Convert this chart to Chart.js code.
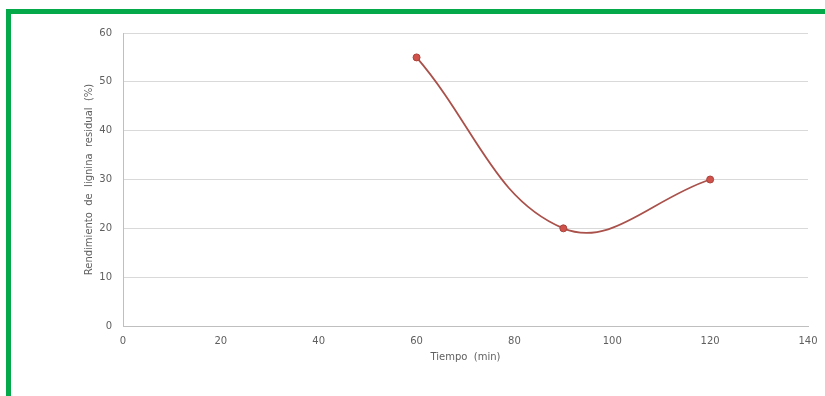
<!DOCTYPE html>
<html>
<head>
<meta charset="utf-8">
<script src="https://cdn.jsdelivr.net/npm/chart.js@4/dist/chart.umd.min.js"></script>
<style>
  html, body { margin: 0; padding: 0; background: #ffffff; overflow: hidden; }
  #wrap { position: relative; width: 825px; height: 396px; }
  #frame { position: absolute; left: 6px; top: 9px; width: 830px; height: 400px;
           border-top: 5px solid #04a94a; border-left: 5px solid #04a94a; box-sizing: border-box; pointer-events: none; }
  canvas { position: absolute; left: 0; top: 0; }
</style>
</head>
<body>
<div id="wrap">
  <canvas id="c" width="825" height="396"></canvas>
  <div id="frame"></div>
</div>
<script>
// Data
const tiempo = [60, 90, 120];               // Tiempo (min)
const rendimiento = [55, 20, 30];           // Rendimiento de lignina residual (%)
const xAxisTitle = 'Tiempo  (min)';
const yAxisTitle = 'Rendimiento  de  lignina  residual  (%)';
const xMin = 0, xMax = 140, xStep = 20;
const yMin = 0, yMax = 60, yStep = 10;

const points = tiempo.map((t, i) => ({ x: t, y: rendimiento[i] }));

const fontFamily = "'DejaVu Sans', Verdana, sans-serif";
const textColor = '#5f5f5f';

new Chart(document.getElementById('c'), {
  type: 'line',
  data: {
    datasets: [{
      data: points,
      borderColor: '#a9514a',
      borderWidth: 1.8,
      tension: 0.4,
      fill: false,
      pointRadius: 3.5,
      pointBackgroundColor: '#d0524a',
      pointBorderColor: '#a8443d',
      pointBorderWidth: 1
    }]
  },
  options: {
    responsive: false,
    animation: false,
    layout: { padding: { left: 0, top: 33, right: 17, bottom: 0 } },
    plugins: { legend: { display: false }, tooltip: { enabled: false } },
    scales: {
      x: {
        type: 'linear',
        min: xMin, max: xMax,
        afterFit: (s) => { s.height = 70; s.paddingRight = 0; s.paddingLeft = 0; },
        ticks: { stepSize: xStep, color: textColor, padding: 9, font: { family: fontFamily, size: 10 }, maxRotation: 0 },
        grid: { color: 'rgba(0,0,0,0)', drawTicks: false },
        border: { display: true, color: '#bfbfbf', width: 1 },
        title: { display: true, text: xAxisTitle, color: textColor, font: { family: fontFamily, size: 10 }, padding: { top: 0, bottom: 33 } }
      },
      y: {
        type: 'linear',
        min: yMin, max: yMax,
        afterFit: (s) => { s.width = 123; s.paddingTop = 0; s.paddingBottom = 0; },
        ticks: { stepSize: yStep, color: textColor, padding: 11, font: { family: fontFamily, size: 10 } },
        grid: { color: '#d9d9d9', drawTicks: false, lineWidth: 1 },
        border: { display: true, color: '#bfbfbf', width: 1 },
        title: { display: true, text: yAxisTitle, color: textColor, font: { family: fontFamily, size: 10 }, padding: { top: 83, bottom: 0 } }
      }
    }
  }
});
</script>
</body>
</html>
